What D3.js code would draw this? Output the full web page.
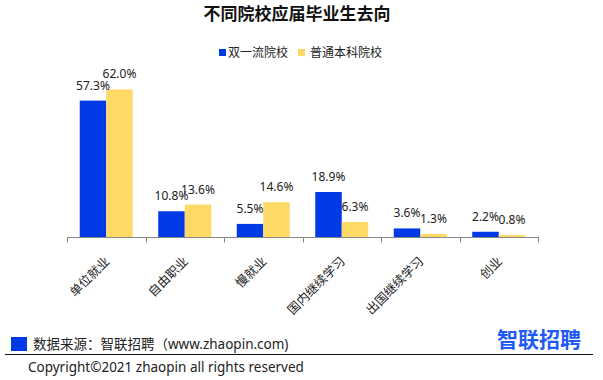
<!DOCTYPE html>
<html><head><meta charset="utf-8">
<script src="https://cdn.jsdelivr.net/npm/d3@7/dist/d3.min.js"></script>
<style>
html,body{margin:0;padding:0;background:#fff;}
svg{display:block;font-family:"Noto Sans","Noto Sans CJK SC",sans-serif;}
</style></head>
<body>
<svg id="c" width="603" height="380"></svg>
<script>
const categories = ["单位就业","自由职业","慢就业","国内继续学习","出国继续学习","创业"];
const seriesNames = ["双一流院校","普通本科院校"];
const seriesColors = ["#0039e6","#ffd966"];
const doubleFirstClass = [57.3,10.8,5.5,18.9,3.6,2.2];
const ordinaryUniv = [62.0,13.6,14.6,6.3,1.3,0.8];
const title = "不同院校应届毕业生去向";
const sourceText = "数据来源：智联招聘（www.zhaopin.com)";
const copyright = "Copyright©2021 zhaopin all rights reserved";
const logoText = "智联招聘";

const seriesValues = [doubleFirstClass, ordinaryUniv];
const svg = d3.select("#c");

const x0 = d3.scaleBand().domain(categories).range([67,538]).paddingInner(0).paddingOuter(0);
const bw = x0.bandwidth();
const x1 = d3.scaleBand().domain(seriesNames).range([bw*0.1624, bw*0.8376]);
const y = d3.scaleLinear().domain([0,70]).range([237,70.4]);

// title
svg.append("text").attr("x",297).attr("y",20).attr("text-anchor","middle")
  .attr("font-size",17).attr("font-weight","bold").attr("fill","#111").text(title);

// legend
const legX = [219,298];
seriesNames.forEach((s,i)=>{
  svg.append("rect").attr("x",legX[i]).attr("y",49).attr("width",7).attr("height",7).attr("fill",seriesColors[i]);
  svg.append("text").attr("x",legX[i]+(i===0?9:12)).attr("y",52.5).attr("dy","0.35em")
    .attr("font-size",12).attr("fill","#222").text(s);
});

// bars
const g = svg.append("g");
seriesNames.forEach((s,si)=>{
  const vals = seriesValues[si];
  g.selectAll(null).data(categories).enter().append("rect")
    .attr("x",c=>x0(c)+x1(s)).attr("width",x1.bandwidth())
    .attr("y",(c,i)=>y(vals[i])).attr("height",(c,i)=>y(0)-y(vals[i]))
    .attr("fill",seriesColors[si]);
});
// labels
seriesNames.forEach((s,si)=>{
  const vals = seriesValues[si];
  g.selectAll(null).data(categories).enter().append("text")
    .attr("x",c=>x0(c)+x1(s)+x1.bandwidth()/2)
    .attr("y",(c,i)=>y(vals[i])-11)
    .attr("text-anchor","middle").attr("font-size",12).attr("fill","#222")
    .text((c,i)=>vals[i].toFixed(1)+"%");
});

// axis
const ax = svg.append("g").attr("transform","translate(0,237)");
ax.append("line").attr("x1",67).attr("x2",538).attr("y1",0.5).attr("y2",0.5).attr("stroke","#888").attr("stroke-width",1);
const tickPos = categories.map(c=>x0(c)).concat([x0.range()[1]]);
ax.selectAll(null).data(tickPos).enter().append("line")
  .attr("x1",d=>Math.round(d)+0.5).attr("x2",d=>Math.round(d)+0.5).attr("y1",0).attr("y2",5.5)
  .attr("stroke","#888");
svg.selectAll(null).data(categories).enter().append("text")
  .attr("transform",c=>`translate(${x0(c)+bw/2+1},259) rotate(-45)`)
  .attr("text-anchor","end").attr("dy","0.35em").attr("font-size",12.5).attr("fill","#222")
  .text(c=>c);

// footer
svg.append("rect").attr("x",11).attr("y",337).attr("width",16).attr("height",14).attr("fill","#0039e6");
svg.append("text").attr("x",33).attr("y",349).attr("font-size",13.5).attr("fill","#222").text(sourceText);
svg.append("line").attr("x1",5).attr("x2",593).attr("y1",354.5).attr("y2",354.5).attr("stroke","#111").attr("stroke-width",1.2);
svg.append("text").attr("x",28).attr("y",372).attr("font-size",13.5).attr("fill","#222").text(copyright);
svg.append("text").attr("x",497).attr("y",347).attr("font-size",21).attr("font-weight","bold")
  .attr("fill","#1f5af7").attr("font-family","'Noto Sans CJK SC',sans-serif").text(logoText);
</script>
</body></html>
